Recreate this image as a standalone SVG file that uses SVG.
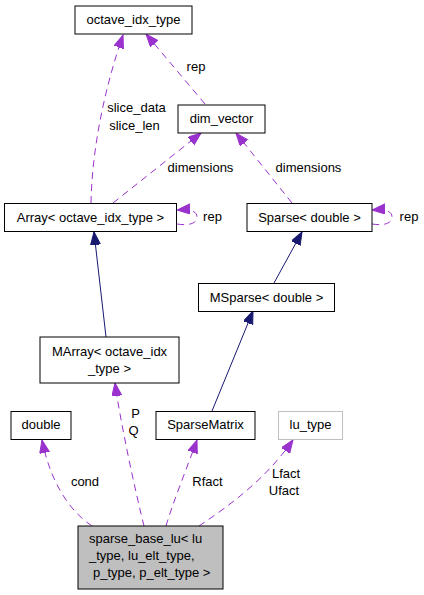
<svg xmlns="http://www.w3.org/2000/svg" width="424" height="595" viewBox="0 0 424 595">
<style>
text{font-family:"Liberation Sans",Arial,sans-serif;font-size:13px;fill:#000}
.c{text-anchor:middle}
.box{fill:#fff;stroke:#000;stroke-width:1}
.use{fill:none;stroke:#9a32cd;stroke-width:1;stroke-dasharray:7,5}
.inh{fill:none;stroke:#191970;stroke-width:1}
</style>
<defs>
<marker id="ap" markerUnits="userSpaceOnUse" markerWidth="14" markerHeight="11" refX="13" refY="5" orient="auto">
<path d="M0,0 L13,5 L0,10 z" fill="#9a32cd" stroke="#9a32cd" stroke-dasharray="none"/>
</marker>
<marker id="ab" markerUnits="userSpaceOnUse" markerWidth="14" markerHeight="11" refX="13" refY="5" orient="auto">
<path d="M0,0 L13,5 L0,10 z" fill="#191970" stroke="#191970"/>
</marker>
</defs>
<g id="edges">
<path class="use" d="M91,203 C92,150 104,90 123,35" marker-end="url(#ap)"/>
<text class="c" x="136.5" y="112">slice_data</text>
<text class="c" x="134.5" y="130">slice_len</text>
<path class="use" d="M205,104 L146,34" marker-end="url(#ap)"/>
<text class="c" x="196" y="71">rep</text>
<path class="use" d="M113,203 L201,133" marker-end="url(#ap)"/>
<text class="c" x="200.5" y="172">dimensions</text>
<path class="use" d="M292,203 L236,133" marker-end="url(#ap)"/>
<text class="c" x="308.5" y="172">dimensions</text>
<path class="use" d="M177,224 C190,226 197,223 197,217 C197,211 190,209 177,210" marker-end="url(#ap)"/>
<text class="c" x="212.5" y="221">rep</text>
<path class="use" d="M372,224 C385,226 392,223 392,217 C392,211 385,209 372,210" marker-end="url(#ap)"/>
<text class="c" x="409" y="221">rep</text>
<path class="inh" d="M106,337 L94,232" marker-end="url(#ab)"/>
<path class="inh" d="M274,283 L302,232" marker-end="url(#ab)"/>
<path class="inh" d="M212,411 L253,311" marker-end="url(#ab)"/>
<path class="use" d="M92,526 C68,510 50,480 42,440" marker-end="url(#ap)"/>
<text class="c" x="85" y="486">cond</text>
<path class="use" d="M144,526 C135,490 120,420 115,383" marker-end="url(#ap)"/>
<text class="c" x="135.5" y="418">P</text>
<text class="c" x="133.5" y="435">Q</text>
<path class="use" d="M166,526 C172,505 188,465 197,440" marker-end="url(#ap)"/>
<text class="c" x="207.5" y="486">Rfact</text>
<path class="use" d="M199,526 C230,505 265,480 293,440" marker-end="url(#ap)"/>
<text class="c" x="286" y="478">Lfact</text>
<text class="c" x="284" y="495">Ufact</text>
</g>
<g id="octave_idx_type">
<rect class="box" x="75" y="6" width="117" height="28"/>
<text class="c" x="133.5" y="24">octave_idx_type</text>
</g>
<g id="dim_vector">
<rect class="box" x="178" y="105" width="87" height="28"/>
<text class="c" x="221.5" y="123">dim_vector</text>
</g>
<g id="Array">
<rect class="box" x="4.5" y="203.5" width="172" height="28"/>
<text class="c" x="90.5" y="222">Array&lt; octave_idx_type &gt;</text>
</g>
<g id="Sparse">
<rect class="box" x="247" y="203.5" width="125" height="28"/>
<text class="c" x="309.5" y="222">Sparse&lt; double &gt;</text>
</g>
<g id="MSparse">
<rect class="box" x="198.5" y="283.5" width="136" height="28"/>
<text class="c" x="266.5" y="302">MSparse&lt; double &gt;</text>
</g>
<g id="MArray">
<rect class="box" x="40" y="337" width="139" height="46"/>
<text class="c" x="109.5" y="356">MArray&lt; octave_idx</text>
<text class="c" x="109.5" y="373">_type &gt;</text>
</g>
<g id="double">
<rect class="box" x="11" y="411.5" width="60" height="28"/>
<text class="c" x="41" y="429">double</text>
</g>
<g id="SparseMatrix">
<rect class="box" x="156" y="411.5" width="99" height="28"/>
<text class="c" x="205.5" y="429">SparseMatrix</text>
</g>
<g id="lu_type">
<rect x="278.5" y="411.5" width="64" height="28" fill="#fff" stroke="#bfbfbf"/>
<text class="c" x="310.5" y="429">lu_type</text>
</g>
<g id="sparse_base_lu">
<rect x="78" y="526" width="145" height="63" fill="#bfbfbf" stroke="#000"/>
<text x="89" y="543">sparse_base_lu&lt; lu</text>
<text x="89" y="560">_type, lu_elt_type,</text>
<text x="93" y="577">p_type, p_elt_type &gt;</text>
</g>
</svg>
